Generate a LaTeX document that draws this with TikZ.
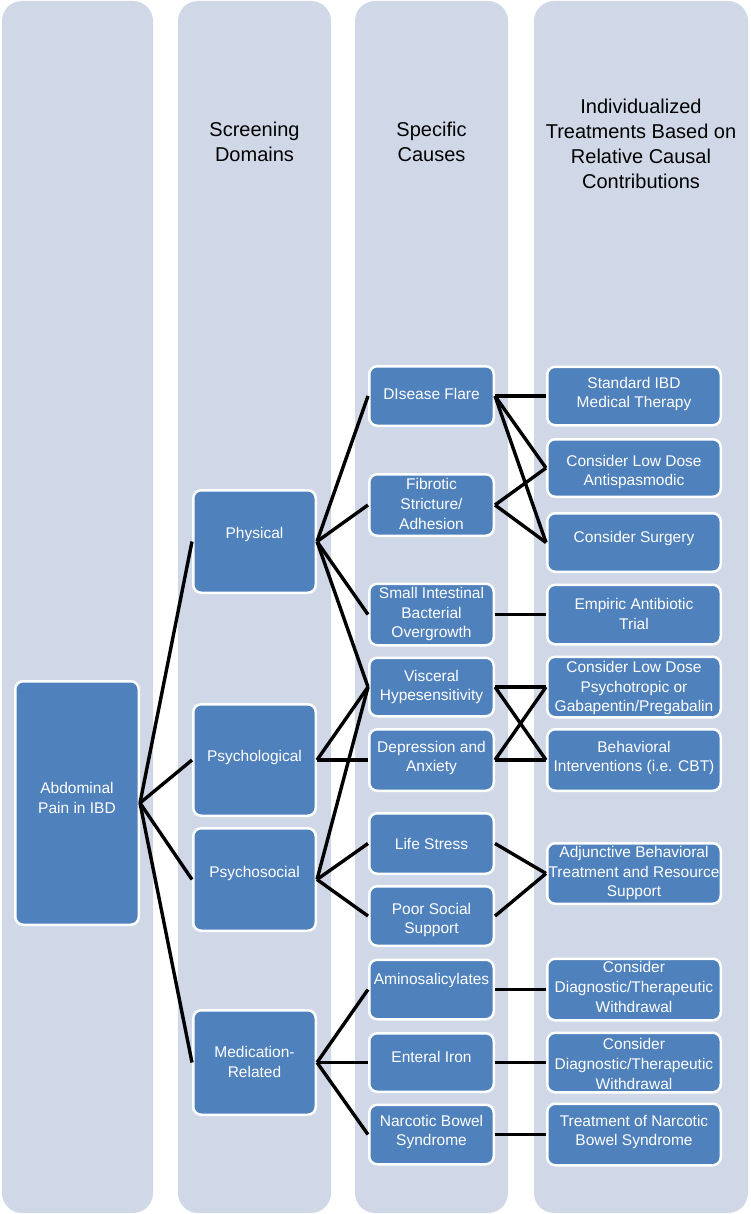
\documentclass[tikz,border=0pt]{standalone}
\usepackage{fontspec}
\setmainfont{Liberation Sans}
\definecolor{colbg}{RGB}{208,216,232}
\definecolor{boxfill}{RGB}{79,129,189}
\tikzset{
 colbox/.style={fill=colbg, draw=none, rounded corners=20pt},
 box/.style={fill=boxfill, draw=white, line width=2.5pt, rounded corners=8pt, inner sep=0pt},
 txt/.style={text=white, align=center, font=\fontsize{15.5}{19.8}\selectfont, inner sep=0pt},
 head/.style={text=black, align=center, font=\fontsize{20}{25}\selectfont, inner sep=0pt},
 link/.style={draw=black, line width=3.4pt},
}
% name, cx, cy, w, h, text y, text
\newcommand{\mybox}[7]{%
 \node[box, minimum width=#4, minimum height=#5] (#1) at (#2,#3) {};
 \node[txt] (#1t) at (#2,#6) {#7};}
\begin{document}
\begin{tikzpicture}[x=1pt,y=-1pt]
\useasboundingbox (0,0) rectangle (750,1214);
% columns
\path[colbox] (2,1) rectangle (153,1213);
\path[colbox] (178,1) rectangle (331,1213);
\path[colbox] (355,1) rectangle (508,1213);
\path[colbox] (534,1) rectangle (748,1213);
% headers
\node[head] (h2) at (254.5,142) {Screening\\Domains};
\node[head] (h3) at (431.5,142) {Specific\\Causes};
\node[head] (h4) at (641,143.5) {Individualized\\Treatments Based on\\Relative Causal\\Contributions};
% column 1
\mybox{abd}{77}{803}{123.5}{243.5}{798}{Abdominal\\Pain in IBD}
% column 2
\mybox{phys}{254.5}{541.5}{122.5}{102.5}{534}{Physical}
\mybox{psyl}{254.5}{760}{122.5}{111.5}{757}{Psychological}
\mybox{psys}{254.5}{879.5}{122.5}{102.5}{873}{Psychosocial}
\mybox{med}{254.5}{1062.5}{122.5}{104.5}{1062}{Medication-\\Related}
% column 3
\mybox{flare}{431.5}{396}{124.5}{59.5}{394}{DIsease Flare}
\mybox{fib}{431.5}{505}{124.5}{61.5}{504}{Fibrotic\\Stricture/\\Adhesion}
\mybox{sibo}{431.5}{614.5}{124.5}{61.5}{614}{Small Intestinal\\Bacterial\\Overgrowth}
\mybox{visc}{431.5}{687}{124.5}{58.5}{687}{Visceral\\Hypesensitivity}
\mybox{dep}{431.5}{760}{124.5}{61.5}{758}{Depression and\\Anxiety}
\mybox{life}{431.5}{843.5}{124.5}{60.5}{844}{Life Stress}
\mybox{poor}{431.5}{916}{124.5}{59.5}{920}{Poor Social\\Support}
\mybox{amino}{431.5}{989.5}{124.5}{59.5}{980}{Aminosalicylates}
\mybox{iron}{431.5}{1062.5}{124.5}{58.5}{1057}{Enteral Iron}
\mybox{narc}{431.5}{1134.5}{124.5}{59.5}{1132}{Narcotic Bowel\\Syndrome}
% column 4
\mybox{std}{634}{396}{173.5}{58.5}{394}{Standard IBD\\Medical Therapy}
\mybox{anti}{634}{468}{173.5}{57.5}{472}{Consider Low Dose\\Antispasmodic}
\mybox{surg}{634}{542.5}{173.5}{58.5}{538}{Consider Surgery}
\mybox{emp}{634}{614.5}{173.5}{59.5}{614}{Empiric Antibiotic\\Trial}
\mybox{psyc}{634}{687}{173.5}{60.5}{688}{Consider Low Dose\\Psychotropic or\\Gabapentin/Pregabalin}
\mybox{behav}{634}{760}{173.5}{61.5}{758}{Behavioral\\Interventions (i.e. CBT)}
\mybox{adj}{634}{873.5}{173.5}{60.5}{873}{Adjunctive Behavioral\\Treatment and Resource\\Support}
\mybox{wd1}{634}{989.5}{173.5}{61.5}{987}{Consider\\Diagnostic/Therapeutic\\Withdrawal}
\mybox{wd2}{634}{1062.5}{173.5}{59.5}{1064}{Consider\\Diagnostic/Therapeutic\\Withdrawal}
\mybox{trt}{634}{1134.5}{173.5}{61.5}{1132}{Treatment of Narcotic\\Bowel Syndrome}
% connectors col1 -> col2
\draw[link] (abd.east) -- (phys.west);
\draw[link] (abd.east) -- (psyl.west);
\draw[link] (abd.east) -- (psys.west);
\draw[link] (abd.east) -- (med.west);
% col2 -> col3
\draw[link] (phys.east) -- (flare.west);
\draw[link] (phys.east) -- (fib.west);
\draw[link] (phys.east) -- (sibo.west);
\draw[link] (phys.east) -- (visc.west);
\draw[link] (psyl.east) -- (visc.west);
\draw[link] (psyl.east) -- (dep.west);
\draw[link] (psys.east) -- (visc.west);
\draw[link] (psys.east) -- (life.west);
\draw[link] (psys.east) -- (poor.west);
\draw[link] (med.east) -- (amino.west);
\draw[link] (med.east) -- (iron.west);
\draw[link] (med.east) -- (narc.west);
% col3 -> col4
\draw[link] (flare.east) -- (std.west);
\draw[link] (flare.east) -- (anti.west);
\draw[link] (flare.east) -- (surg.west);
\draw[link] (fib.east) -- (anti.west);
\draw[link] (fib.east) -- (surg.west);
\draw[link] (sibo.east) -- (emp.west);
\draw[link] (visc.east) -- (psyc.west);
\draw[link] (visc.east) -- (behav.west);
\draw[link] (dep.east) -- (behav.west);
\draw[link] (dep.east) -- (psyc.west);
\draw[link] (life.east) -- (adj.west);
\draw[link] (poor.east) -- (adj.west);
\draw[link] (amino.east) -- (wd1.west);
\draw[link] (iron.east) -- (wd2.west);
\draw[link] (narc.east) -- (trt.west);
\end{tikzpicture}
\end{document}
